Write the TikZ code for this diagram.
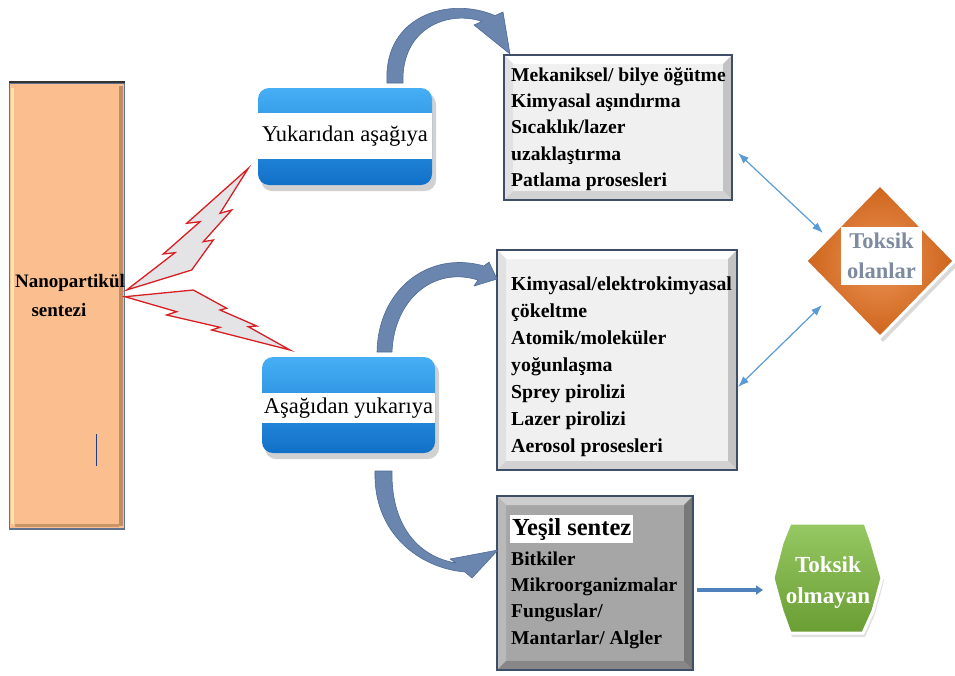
\documentclass[tikz,border=0pt]{standalone}
\usepackage{fontspec}
\setmainfont{Liberation Serif}
\usetikzlibrary{shapes.geometric,arrows.meta,calc}

\definecolor{peach}{RGB}{250,190,143}
\definecolor{peachlight}{RGB}{255,232,170}
\definecolor{peachdark}{RGB}{170,120,80}
\definecolor{barframe}{RGB}{95,115,145}
\definecolor{boxblue}{RGB}{16,112,200}
\definecolor{boxbluelight}{RGB}{70,175,245}
\definecolor{arrowblue}{RGB}{106,134,174}
\definecolor{arrowedge}{RGB}{78,106,150}
\definecolor{linkblue}{RGB}{91,155,213}
\definecolor{darkblue}{RGB}{79,129,189}
\definecolor{boltred}{RGB}{215,30,35}
\definecolor{boltfill}{RGB}{228,228,230}
\definecolor{framedark}{RGB}{62,78,104}
\definecolor{orng}{RGB}{232,122,42}
\definecolor{orngdark}{RGB}{205,100,28}
\definecolor{grn}{RGB}{124,186,60}
\definecolor{toxgray}{RGB}{125,138,160}
\definecolor{cursorblue}{RGB}{30,60,130}
\definecolor{lface}{RGB}{240,240,240}
\definecolor{ltop}{RGB}{255,255,255}
\definecolor{lleft}{RGB}{225,225,225}
\definecolor{lright}{RGB}{195,195,195}
\definecolor{lbottom}{RGB}{210,210,210}
\definecolor{dface}{RGB}{166,166,166}
\definecolor{dtop}{RGB}{205,205,205}
\definecolor{dleft}{RGB}{185,185,185}
\definecolor{dright}{RGB}{120,120,120}
\definecolor{dbottom}{RGB}{135,135,135}

% x0 y0 x1 y1 face top left right bottom
\newcommand{\bvbox}[9]{%
  \fill[#5] (#1,#2) rectangle (#3,#4);
  \fill[#6] (#1,#2) -- (#3,#2) -- (#3-9,#2+9) -- (#1+9,#2+9) -- cycle;
  \fill[#7] (#1,#2) -- (#1+9,#2+9) -- (#1+9,#4-9) -- (#1,#4) -- cycle;
  \fill[#8] (#3,#2) -- (#3,#4) -- (#3-9,#4-9) -- (#3-9,#2+9) -- cycle;
  \fill[#9] (#1,#4) -- (#3,#4) -- (#3-9,#4-9) -- (#1+9,#4-9) -- cycle;
  \draw[framedark, line width=1.6pt] (#1,#2) rectangle (#3,#4);
}

\tikzset{
  boxtext/.style={anchor=west, inner sep=0pt, align=left,
    font=\bfseries\fontsize{19.6}{26.3}\selectfont},
  bandtext/.style={fill=white, inner sep=0pt, minimum width=174pt,
    font=\fontsize{22.5}{24}\selectfont},
  bluebox/.style={rounded corners=11pt, top color=boxbluelight, bottom color=boxblue},
  shadowbox/.style={rounded corners=11pt, fill=black, opacity=0.18},
  bolt/.style={draw=boltred, line width=1.3pt, fill=boltfill, line join=miter},
  curvearrow/.style={fill=arrowblue, draw=arrowedge, line width=0.6pt, line join=round},
  linkarrow/.style={linkblue, line width=1.2pt, {Latex[length=11pt,width=8pt]}-{Latex[length=11pt,width=8pt]}},
  greenarrow/.style={darkblue, line width=3.5pt, -{Triangle[length=7pt,width=9pt]}},
  toxtext/.style={font=\bfseries\fontsize{22.5}{30}\selectfont, align=center}
}

\begin{document}
\begin{tikzpicture}[x=1pt,y=-1pt]
\useasboundingbox (0,0) rectangle (955,675);

% ---------- Nanopartikul bar ----------
\node[fill=peach, draw=barframe, line width=1.5pt, minimum width=115pt, minimum height=446pt, inner sep=0pt]
  (nano) at (67,306) {};
\draw[peachlight, line width=3pt] ($(nano.north west)+(4,6)$) -- ($(nano.south west)+(4,-6)$);
\draw[peachdark!70!peach, line width=4pt] ($(nano.north east)+(-4,4)$) -- ($(nano.south east)+(-4,-4)$);
\draw[peachdark!60!peach, line width=3pt] ($(nano.south west)+(6,-4)$) -- ($(nano.south east)+(-6,-4)$);
\draw[black!80, line width=2pt] (nano.north west) -- (nano.north east);
\node[font=\bfseries\fontsize{19}{22}\selectfont, inner sep=0pt] (nanoA) at (70,283) {Nanopartikül};
\node[font=\bfseries\fontsize{19}{22}\selectfont, inner sep=0pt] (nanoB) at (59,310) {sentezi};
\draw[cursorblue, line width=1pt] (96,434) -- (96,466);

% ---------- lightning bolts ----------
\draw[bolt] (126.7,290) -- (175,252.7) -- (163.3,254) -- (200,221.7) -- (186.7,223.3)
  -- (248.3,168.3) -- (220,213.3) -- (231.7,210) -- (203.3,241.7) -- (213.3,240)
  -- (191.7,270) -- cycle;
\draw[bolt] (125,296.7) -- (193.3,290) -- (226.7,308.3) -- (220,310) -- (256.7,326)
  -- (248.3,326.7) -- (290,350) -- (211.7,330) -- (220,327.3) -- (166.7,315)
  -- (176.7,311.7) -- cycle;

% ---------- blue boxes ----------
\fill[shadowbox] (261,93) rectangle (436,191);
\node[bluebox, minimum width=174pt, minimum height=97pt, inner sep=0pt] (top) at (345,136.5) {};
\node[bandtext, minimum height=46pt] (topt) at (345,136) {Yukarıdan aşağıya};

\fill[shadowbox] (265,362) rectangle (439,459);
\node[bluebox, minimum width=173pt, minimum height=96pt, inner sep=0pt] (bottom) at (348.5,405) {};
\node[bandtext, minimum width=173pt, minimum height=30pt] (bottomt) at (348.5,408) {Aşağıdan yukarıya};

% ---------- gray boxes ----------
\bvbox{504}{55}{732}{200}{lface}{ltop}{lleft}{lright}{lbottom}
\node[inner sep=0pt, minimum width=228pt, minimum height=145pt] (g1) at (618,127.5) {};
\node[boxtext] (g1t) at (511,129) {Mekaniksel/ bilye öğütme\\Kimyasal aşındırma\\Sıcaklık/lazer\\uzaklaştırma\\Patlama prosesleri};

\bvbox{497}{250}{737}{470}{lface}{ltop}{lleft}{lright}{lbottom}
\node[inner sep=0pt, minimum width=240pt, minimum height=220pt] (g2) at (617,360) {};
\node[boxtext, font=\bfseries\fontsize{19.8}{27}\selectfont] (g2t) at (511,367) {Kimyasal/elektrokimyasal\\çökeltme\\Atomik/moleküler\\yoğunlaşma\\Sprey pirolizi\\Lazer pirolizi\\Aerosol prosesleri};

\bvbox{497}{496}{693}{670}{dface}{dtop}{dleft}{dright}{dbottom}
\node[inner sep=0pt, minimum width=196pt, minimum height=174pt] (g3) at (595,583) {};
\node[fill=white, inner sep=0pt, minimum width=123pt, minimum height=28pt] (yesilbg) at (571.5,529) {};
\node[font=\bfseries\fontsize{24.5}{26}\selectfont, anchor=west, inner sep=0pt] (yesil) at (512,530) {Yeşil sentez};
\node[boxtext] (g3t) at (511,600) {Bitkiler\\Mikroorganizmalar\\Funguslar/\\Mantarlar/ Algler};

% ---------- curved block arrows ----------
\path[curvearrow] (387,83) .. controls (383,15) and (450,-4) .. (495,15.6)
  -- (503,12) -- (510,54) -- (474,25) -- (482,21.4)
  .. controls (448,10) and (401,28) .. (403,83) -- cycle;
\path[curvearrow] (377,352) .. controls (378,290) and (428,250) .. (484,266)
  -- (489,262) -- (497,279) -- (474,286) -- (478,280)
  .. controls (433,266) and (394,300) .. (392,352) -- cycle;
\path[curvearrow] (375,471) .. controls (373,532) and (418,568) .. (465,572)
  -- (472,578) -- (498,550) -- (450,559) -- (456,563)
  .. controls (415,556) and (391,522) .. (392,471) -- cycle;

% ---------- diamond ----------
\node[diamond, fill=black, opacity=0.15, minimum width=150pt, minimum height=154pt, inner sep=0pt] (toxshadow) at (883,265) {};
\node[diamond, draw=white, line width=3pt, inner color=orng!80!white, outer color=orngdark, minimum width=150pt, minimum height=154pt, inner sep=0pt] (tox) at (880,261) {};
\node[toxtext, fill=white, text=toxgray, minimum width=81pt, minimum height=58pt, inner sep=0pt] (toxt) at (881.5,256) {Toksik\\olanlar};

\coordinate (l1a) at (738,153);
\coordinate (l1b) at (823,233);
\coordinate (l2a) at (738,387);
\coordinate (l2b) at (822,305);
\draw[linkarrow] (l1a) -- (l1b);
\draw[linkarrow] (l2a) -- (l2b);

% ---------- green shape ----------
\fill[black, opacity=0.12] (792,527) -- (867,527) -- (874,547) -- (884,581) -- (875,614) -- (865,637) -- (792,637) -- (784,614) -- (775,581) -- (784,547) -- cycle;
\draw[white, line width=3pt, top color=grn!80!white, bottom color=grn!85!black]
  (790,523) -- (865,523) -- (872,543) -- (882,578) -- (873,611) -- (863,633) -- (790,633) -- (782,611) -- (773,578) -- (782,543) -- cycle;
\node[toxtext, text=white, font=\bfseries\fontsize{23}{31}\selectfont] (green) at (828,582) {Toksik\\olmayan};

\coordinate (garrowend) at (763,590);
\draw[greenarrow] (g3.east) ++(4,7) -- (garrowend);
\end{tikzpicture}
\end{document}
